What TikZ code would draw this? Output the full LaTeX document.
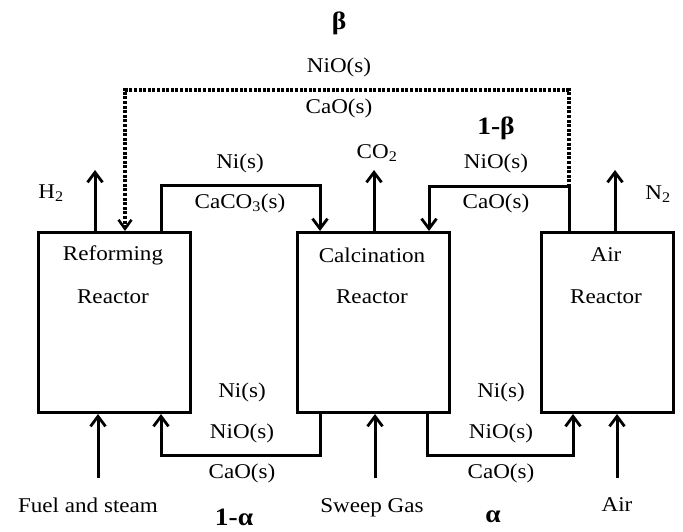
\documentclass[tikz,border=0pt]{standalone}
\usepackage{fontspec}
\setmainfont{Liberation Serif}[FakeStretch=1.1]
\usetikzlibrary{arrows.meta}
\begin{document}
\begin{tikzpicture}[x=1pt,y=-1pt,
  reactor/.style={draw,line width=3pt,inner sep=0pt,anchor=north west},
  flow/.style={line width=3pt},
  arr/.style={flow,-{Straight Barb[length=10pt,width=15pt,line width=2.8pt]}},
  dots/.style={line width=3.4pt,dash pattern=on 3pt off 1.6pt},
  lbl/.style={font=\fontsize{21}{24}\selectfont,inner sep=0pt},
  big/.style={font=\fontsize{25}{28}\selectfont\bfseries,inner sep=0pt}]
\useasboundingbox (0,0) rectangle (683,532);
% reactors
\node[reactor,minimum width=152pt,minimum height=180pt] (ref) at (37,231) {};
\node[reactor,minimum width=152pt,minimum height=180pt] (cal) at (296,231) {};
\node[reactor,minimum width=132pt,minimum height=180pt] (air) at (540,231) {};
\node[lbl] (tref1) at (113,255) {Reforming};
\node[lbl] (tref2) at (113,297) {Reactor};
\node[lbl] (tcal1) at (372,255) {Calcination};
\node[lbl] (tcal2) at (372,297) {Reactor};
\node[lbl] (tair1) at (606,255) {Air};
\node[lbl] (tair2) at (606,297) {Reactor};
% coordinates
\coordinate (h2t) at (95,170);
\coordinate (co2t) at (374,170);
\coordinate (n2t) at (615,170);
\coordinate (c1a) at (161,186);
\coordinate (c1b) at (320,186);
\coordinate (c2a) at (569,187);
\coordinate (c2b) at (429,187);
\coordinate (d1) at (569,90);
\coordinate (d2) at (125,90);
\coordinate (fuel) at (98,478);
\coordinate (sweep) at (375,478);
\coordinate (airin) at (617,478);
\coordinate (b1a) at (320,455);
\coordinate (b1b) at (161,455);
\coordinate (b2a) at (427,455);
\coordinate (b2b) at (573,455);
% top connectors
\draw[arr] (ref.north -| h2t) -- (h2t);
\draw[arr] (cal.north -| co2t) -- (co2t);
\draw[arr] (air.north -| n2t) -- (n2t);
\draw[arr] (ref.north -| c1a) -- (c1a) -- (c1b) -- (cal.north -| c1b);
\draw[arr] (air.north -| c2a) -- (c2a) -- (c2b) -- (cal.north -| c2b);
\draw[dots,-{Straight Barb[length=9pt,width=13pt,line width=2.6pt]}] (c2a) -- (d1) -- (d2) -- (ref.north -| d2);
% bottom connectors
\draw[arr] (fuel) -- (ref.south -| fuel);
\draw[arr] (sweep) -- (cal.south -| sweep);
\draw[arr] (airin) -- (air.south -| airin);
\draw[arr] (cal.south -| b1a) -- (b1a) -- (b1b) -- (ref.south -| b1b);
\draw[arr] (cal.south -| b2a) -- (b2a) -- (b2b) -- (air.south -| b2b);
% labels top
\node[big] (beta) at (339,23) {β};
\node[lbl] (tnio) at (339,67) {NiO(s)};
\node[lbl] (tcao) at (339,108) {CaO(s)};
\node[big] (omb) at (496,128) {1-β};
\node[lbl] (lh2) at (51,193) {H\textsubscript{2}};
\node[lbl] (lco2) at (377,153) {CO\textsubscript{2}};
\node[lbl] (ln2) at (658,194) {N\textsubscript{2}};
\node[lbl] (lni1) at (240,163) {Ni(s)};
\node[lbl] (lcaco3) at (240,203) {CaCO\textsubscript{3}(s)};
\node[lbl] (lnio2) at (496,163) {NiO(s)};
\node[lbl] (lcao2) at (496,203) {CaO(s)};
% labels bottom
\node[lbl] (bni1) at (242,392) {Ni(s)};
\node[lbl] (bnio1) at (242,433) {NiO(s)};
\node[lbl] (bcao1) at (242,473) {CaO(s)};
\node[lbl] (bni2) at (501,392) {Ni(s)};
\node[lbl] (bnio2) at (501,433) {NiO(s)};
\node[lbl] (bcao2) at (501,473) {CaO(s)};
\node[lbl] (lfuel) at (88,505) {Fuel and steam};
\node[lbl] (lsweep) at (372,508) {Sweep Gas};
\node[lbl] (lair) at (617,505) {Air};
\node[big] (oma) at (234,517) {1-α};
\node[big] (alpha) at (493,517) {α};
\end{tikzpicture}
\end{document}
